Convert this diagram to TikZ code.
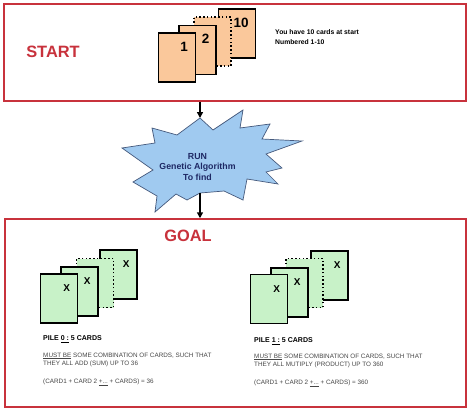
\documentclass[tikz,border=0pt]{standalone}
\usepackage{fontspec}
\setmainfont{Liberation Sans}
\usetikzlibrary{positioning,fit,arrows.meta}
\definecolor{panelred}{RGB}{200,50,60}
\definecolor{peach}{RGB}{250,200,155}
\definecolor{mint}{RGB}{200,242,200}
\definecolor{burst}{RGB}{160,202,240}
\definecolor{burstedge}{RGB}{70,90,125}
\definecolor{navy}{RGB}{30,40,100}
\definecolor{notegray}{RGB}{70,70,70}

\begin{document}
\begin{tikzpicture}[x=0.03cm, y=-0.03cm,
  panel/.style={draw=panelred, line width=1.3pt, inner sep=0pt},
  title/.style={font=\fontsize{14}{16}\selectfont\bfseries, text=panelred},
  card/.style={draw, line width=1.2pt, minimum width=1.11cm, minimum height=1.47cm, inner sep=0pt},
  ghost/.style={card, dotted},
  num/.style={font=\fontsize{11.5}{13}\selectfont\bfseries, inner sep=0pt},
  xmark/.style={font=\fontsize{8.5}{9}\selectfont\bfseries, inner sep=0pt},
  note/.style={font=\fontsize{5.4}{6}\selectfont, text=notegray, anchor=west, inner sep=0pt},
  notehead/.style={font=\fontsize{6}{7}\selectfont\bfseries, anchor=west, inner sep=0pt},
  arrow/.style={-{Triangle[length=5pt,width=5pt]}, line width=1.4pt}
]
\useasboundingbox[fill=white] (0,0) rectangle (474,415);

% start panel
\node[panel, fit={(4,4) (466,101)}] (startpanel) {};
\node[title] (start) at (53,52) {START};
\node[card, fill=peach] (c10) at (237,33.5) {};
\node[ghost, fill=peach] (cdots) at (212.5,41.5) {};
\node[card, fill=peach] (c2) at (197.5,50) {};
\node[card, fill=peach] (c1) at (177,57.5) {};
\node[num] at ([shift={(-12,15)}]c1.north east) {1};
\node[num] at ([shift={(-11,14)}]c2.north east) {2};
\node[num] at ([shift={(-15,15)}]c10.north east) {10};
\node[font=\fontsize{5.8}{8}\selectfont\bfseries, align=left, anchor=north west, inner sep=0pt] (have) at (275,29.5)
  {You have 10 cards at start\\Numbered 1-10};

% the burst
\draw[fill=burst, draw=burstedge, line width=0.6pt]
  (200,118) -- (213,130) -- (243,110) -- (240,128) -- (270,124) -- (262,139)
  -- (302,141) -- (266,154) -- (282,168) -- (266,172) -- (278,184) -- (247,179)
  -- (243,200) -- (224,191) -- (200,193) -- (187,200) -- (176,194) -- (155,212)
  -- (157,196) -- (133,182) -- (153,170) -- (122,148) -- (155,143) -- (152,128)
  -- (177,135) -- cycle;
\coordinate (bursttop) at (200,118);
\coordinate (burstbot) at (200,193);
\node[font=\fontsize{7.5}{9}\selectfont\bfseries, text=navy, align=center] (run) at (197.5,167)
  {RUN\\Genetic Algorithm\\To find};

% goal panel
\node[panel, fit={(5,219) (466,407)}] (goalpanel) {};
\node[title] (goal) at (188,236) {GOAL};

\draw[arrow] (startpanel.south -| bursttop) -- (bursttop);
\draw[arrow] (burstbot) -- (goalpanel.north -| burstbot);

% pile 0
\node[card, fill=mint] (a4) at (118.5,274.5) {};
\node[ghost, fill=mint] (a3) at (95,283) {};
\node[card, fill=mint] (a2) at (79.5,291.5) {};
\node[card, fill=mint] (a1) at (59,298.5) {};
\node[xmark] at ([shift={(-11.5,15)}]a1.north east) {X};
\node[xmark] at ([shift={(-11.5,15)}]a2.north east) {X};
\node[xmark] at ([shift={(-11.5,15)}]a4.north east) {X};
\node[notehead] (pile0) at (43,339) {PILE \underline{0 :} 5 CARDS};
\node[note] (must0) at (43,356) {\underline{MUST BE} SOME COMBINATION OF CARDS, SUCH THAT};
\node[note] (sum0) at (43,364) {THEY ALL ADD (SUM) UP TO 36};
\node[note] (eq0) at (43,382) {(CARD1 + CARD 2 \underline{+...} + CARDS) = 36};

% pile 1
\node[card, fill=mint] (b4) at (329.5,275.5) {};
\node[ghost, fill=mint] (b3) at (304.5,283) {};
\node[card, fill=mint] (b2) at (289.5,292.5) {};
\node[card, fill=mint] (b1) at (269,299) {};
\node[xmark] at ([shift={(-11.5,15)}]b1.north east) {X};
\node[xmark] at ([shift={(-11.5,15)}]b2.north east) {X};
\node[xmark] at ([shift={(-11.5,15)}]b4.north east) {X};
\node[notehead] (pile1) at (254,341) {PILE \underline{1 :} 5 CARDS};
\node[note] (must1) at (254,357) {\underline{MUST BE} SOME COMBINATION OF CARDS, SUCH THAT};
\node[note] (prod1) at (254,365) {THEY ALL MUTIPLY (PRODUCT) UP TO 360};
\node[note] (eq1) at (254,383) {(CARD1 + CARD 2 \underline{+...} + CARDS) = 360};
\end{tikzpicture}
\end{document}
